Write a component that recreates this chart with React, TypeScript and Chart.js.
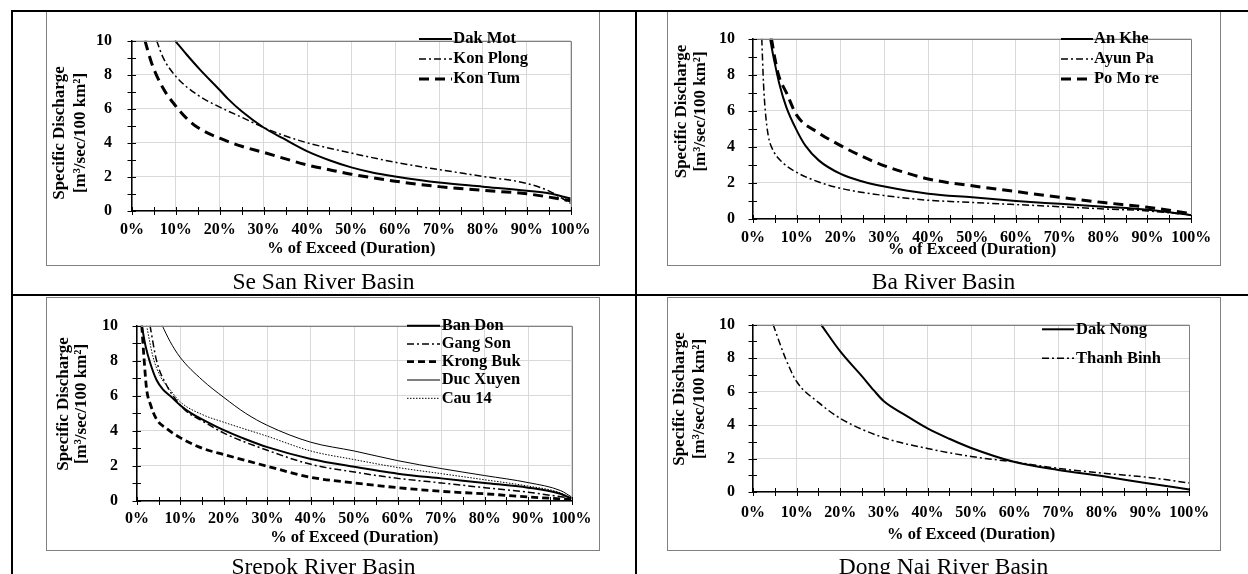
import React, { useEffect, useRef } from "react";
import { Chart, registerables } from "chart.js";

Chart.register(...registerables);

const FONT = "'Liberation Serif', 'Times New Roman', serif";

// ---------- axes / texts ----------
const xTickValues = [0, 10, 20, 30, 40, 50, 60, 70, 80, 90, 100];
const xTickLabels = ["0%", "10%", "20%", "30%", "40%", "50%", "60%", "70%", "80%", "90%", "100%"];
const yTickValues = [0, 2, 4, 6, 8, 10];
const yTickLabels = ["0", "2", "4", "6", "8", "10"];
const yAxisTitle = ["Specific Discharge", "[m³/sec/100 km²]"];
const xAxisTitle = "% of Exceed (Duration)";
const captions = ["Se San River Basin", "Ba River Basin", "Srepok River Basin", "Dong Nai River Basin"];

// ---------- Se San River Basin ----------
const dakMotX = [9.8, 12.4, 15.5, 20, 22, 25, 30, 34.4, 40, 45, 50, 55, 60, 70, 80, 90, 95, 100];
const dakMotY = [10, 9.2, 8.3, 7.1, 6.55, 5.85, 4.9, 4.27, 3.5, 2.98, 2.56, 2.25, 2.03, 1.67, 1.43, 1.19, 1.04, 0.73];
const konPlongX = [5.6, 7.1, 10, 15, 20, 25, 30, 35, 40, 50, 60, 70, 80, 90, 95, 100];
const konPlongY = [10, 9.0, 7.9, 6.8, 6.1, 5.5, 4.9, 4.4, 4.0, 3.4, 2.86, 2.43, 2.03, 1.62, 1.18, 0.45];
const konTumX = [2.95, 4.5, 7.1, 10, 12.4, 15, 20, 25, 30, 40, 45, 50, 60, 70, 80, 90, 100];
const konTumY = [10, 8.66, 7.2, 6.15, 5.45, 4.9, 4.27, 3.8, 3.44, 2.7, 2.42, 2.16, 1.75, 1.43, 1.21, 1.01, 0.6];

// ---------- Ba River Basin ----------
const anKheX = [3.9, 4.5, 5, 6, 7.6, 10, 12, 15, 20, 25, 30, 40, 50, 60, 70, 80, 90, 100];
const anKheY = [10, 9.2, 8.6, 7.5, 6.2, 4.9, 4.05, 3.25, 2.5, 2.08, 1.8, 1.4, 1.2, 1.0, 0.84, 0.68, 0.51, 0.21];
const ayunPaX = [2.0, 2.4, 2.8, 3.5, 4.6, 6.9, 10, 15, 20, 30, 40, 50, 60, 70, 80, 90, 100];
const ayunPaY = [10, 7.5, 6.0, 4.6, 3.8, 3.1, 2.58, 2.05, 1.7, 1.3, 1.04, 0.92, 0.8, 0.68, 0.56, 0.45, 0.22];
const poMoReX = [4.2, 5, 5.8, 7.7, 10, 15, 20, 25, 30, 35, 40, 45, 50, 60, 70, 80, 90, 100];
const poMoReY = [10, 8.9, 8.0, 6.96, 5.74, 4.77, 4.07, 3.46, 2.95, 2.55, 2.22, 2.0, 1.84, 1.52, 1.2, 0.91, 0.65, 0.3];

// ---------- Srepok River Basin ----------
const banDonX = [1.1, 2, 3, 4.5, 6, 7.6, 10, 12.5, 15, 20, 25, 30, 40, 50, 60, 70, 80, 90, 97, 100];
const banDonY = [10, 8.8, 7.9, 6.9, 6.35, 6.0, 5.45, 5.0, 4.66, 4.04, 3.52, 3.07, 2.4, 1.95, 1.56, 1.29, 1.03, 0.76, 0.44, 0.14];
const gangSonX = [3, 4.5, 6.8, 9.1, 11.4, 15, 20, 30, 40, 50, 60, 70, 80, 90, 100];
const gangSonY = [10, 8.0, 6.6, 5.73, 5.1, 4.57, 3.87, 2.89, 2.09, 1.65, 1.29, 1.03, 0.76, 0.5, 0.15];
const krongBukX = [1.1, 1.6, 2.2, 3.1, 4.5, 6.8, 10, 15, 20, 30, 40, 50, 60, 70, 80, 90, 100];
const krongBukY = [10, 8.2, 6.4, 5.5, 4.66, 4.13, 3.6, 3.01, 2.65, 1.98, 1.35, 1.03, 0.76, 0.55, 0.41, 0.23, 0.09];
const ducXuyenX = [5.8, 7.6, 9.9, 15, 20, 25, 30, 40, 50, 60, 70, 80, 90, 97.5, 100];
const ducXuyenY = [10, 9.1, 8.2, 6.9, 5.9, 5.0, 4.31, 3.35, 2.85, 2.3, 1.85, 1.45, 1.05, 0.59, 0.23];
const cau14X = [2.2, 3.7, 5.3, 7.6, 10, 15, 20, 30, 40, 50, 60, 70, 80, 90, 97, 100];
const cau14Y = [10, 8.2, 7.14, 6.35, 5.64, 4.93, 4.49, 3.69, 2.85, 2.36, 1.91, 1.56, 1.21, 0.85, 0.5, 0.15];

// ---------- Dong Nai River Basin ----------
const dakNongX = [15.6, 20, 25, 27.7, 30, 35, 40, 45, 50, 60, 70, 80, 90, 100];
const dakNongY = [10, 8.4, 6.91, 6.07, 5.42, 4.58, 3.8, 3.18, 2.63, 1.79, 1.32, 0.95, 0.54, 0.15];
const thanhBinhX = [4.6, 7.5, 10, 15, 20, 30, 40, 50, 60, 70, 80, 90, 100];
const thanhBinhY = [10, 7.95, 6.6, 5.35, 4.4, 3.24, 2.6, 2.12, 1.79, 1.41, 1.13, 0.89, 0.54];

// ---------- line styles ----------
type LineStyle = { width: number; dash: number[] };
const SOLID: LineStyle = { width: 2, dash: [] };
const THIN: LineStyle = { width: 1, dash: [] };
const DASH_DOT: LineStyle = { width: 1.5, dash: [7, 3, 2, 3] };
const LONG_DASH: LineStyle = { width: 3, dash: [10, 6] };
const SHORT_DASH: LineStyle = { width: 2.8, dash: [7, 4] };
const DOTTED: LineStyle = { width: 1, dash: [1.5, 1.5] };

type Series = { label: string; xs: number[]; ys: number[]; style: LineStyle };

type Geom = {
  boxX: number; boxY: number; boxW: number; boxH: number;
  plotL: number; plotT: number; plotR: number; plotB: number;
  yTickPad: number; xTickPad: number;
  yTitleX1: number; yTitleX2: number; yTitleY: number; xTitleY: number;
  legSampleX: number; legSampleW: number; legTextX: number; legRows: number[];
  capX: number; capBase: number;
};

type PanelCfg = { caption: string; series: Series[]; g: Geom };

const panels: PanelCfg[] = [
  {
    caption: captions[0],
    series: [
      { label: "Dak Mot", xs: dakMotX, ys: dakMotY, style: SOLID },
      { label: "Kon Plong", xs: konPlongX, ys: konPlongY, style: DASH_DOT },
      { label: "Kon Tum", xs: konTumX, ys: konTumY, style: LONG_DASH },
    ],
    g: {
      boxX: 46, boxY: 11, boxW: 554, boxH: 255,
      plotL: 132, plotT: 29, plotR: 572, plotB: 211,
      yTickPad: 20, xTickPad: 9.4,
      yTitleX1: 59.3, yTitleX2: 80.3, yTitleY: 133, xTitleY: 248.3,
      legSampleX: 419, legSampleW: 33, legTextX: 453.3, legRows: [39, 59, 79],
      capX: 323.5, capBase: 289.3,
    },
  },
  {
    caption: captions[1],
    series: [
      { label: "An Khe", xs: anKheX, ys: anKheY, style: SOLID },
      { label: "Ayun Pa", xs: ayunPaX, ys: ayunPaY, style: DASH_DOT },
      { label: "Po Mo re", xs: poMoReX, ys: poMoReY, style: LONG_DASH },
    ],
    g: {
      boxX: 667, boxY: 11, boxW: 554, boxH: 255,
      plotL: 753, plotT: 29, plotR: 1193, plotB: 219,
      yTickPad: 18, xTickPad: 9.7,
      yTitleX1: 681.7, yTitleX2: 700.7, yTitleY: 111.5, xTitleY: 249.5,
      legSampleX: 1061, legSampleW: 32, legTextX: 1094, legRows: [39, 59, 79],
      capX: 943.5, capBase: 289.3,
    },
  },
  {
    caption: captions[2],
    series: [
      { label: "Ban Don", xs: banDonX, ys: banDonY, style: SOLID },
      { label: "Gang Son", xs: gangSonX, ys: gangSonY, style: DASH_DOT },
      { label: "Krong Buk", xs: krongBukX, ys: krongBukY, style: SHORT_DASH },
      { label: "Duc Xuyen", xs: ducXuyenX, ys: ducXuyenY, style: THIN },
      { label: "Cau 14", xs: cau14X, ys: cau14Y, style: DOTTED },
    ],
    g: {
      boxX: 46, boxY: 297, boxW: 554, boxH: 254,
      plotL: 137, plotT: 313, plotR: 572, plotB: 501,
      yTickPad: 19, xTickPad: 8.4,
      yTitleX1: 63.3, yTitleX2: 81.7, yTitleY: 404, xTitleY: 537.5,
      legSampleX: 407, legSampleW: 33, legTextX: 441.7, legRows: [325.7, 344, 361.7, 380, 398.3],
      capX: 323.5, capBase: 574.3,
    },
  },
  {
    caption: captions[3],
    series: [
      { label: "Dak Nong", xs: dakNongX, ys: dakNongY, style: SOLID },
      { label: "Thanh Binh", xs: thanhBinhX, ys: thanhBinhY, style: DASH_DOT },
    ],
    g: {
      boxX: 667, boxY: 297, boxW: 554, boxH: 254,
      plotL: 753, plotT: 313, plotR: 1193, plotB: 492,
      yTickPad: 18, xTickPad: 11.7,
      yTitleX1: 680, yTitleX2: 700, yTitleY: 399, xTitleY: 535,
      legSampleX: 1042, legSampleW: 32, legTextX: 1076, legRows: [329.3, 358.3],
      capX: 943.5, capBase: 574.3,
    },
  },
];

function makeDecor(g: Geom, series: Series[]) {
  return {
    id: "decor",
    afterDraw(chart: any) {
      const ctx: CanvasRenderingContext2D = chart.ctx;
      const { left, right, top, bottom } = chart.chartArea;
      const xs = chart.scales.x;
      const ys = chart.scales.y;
      ctx.save();
      // plot frame (top + right)
      ctx.setLineDash([]);
      ctx.strokeStyle = "#7f7f7f";
      ctx.lineWidth = 1;
      ctx.beginPath();
      const ty = Math.round(top) + 0.5;
      const rx = Math.round(right) + 0.5;
      ctx.moveTo(left, ty);
      ctx.lineTo(rx, ty);
      ctx.moveTo(rx, ty);
      ctx.lineTo(rx, bottom);
      ctx.stroke();
      // tick crosses
      ctx.strokeStyle = "#000";
      ctx.lineWidth = 1;
      ctx.beginPath();
      for (let v = 0; v <= 100; v += 5) {
        const px = Math.round(xs.getPixelForValue(v)) + 0.5;
        ctx.moveTo(px, bottom - 4);
        ctx.lineTo(px, bottom + 4);
      }
      for (let v = 0; v <= 10; v += 1) {
        const py = Math.round(ys.getPixelForValue(v)) + 0.5;
        ctx.moveTo(left - 4.5, py);
        ctx.lineTo(left + 4, py);
      }
      ctx.stroke();
      // axis titles
      ctx.fillStyle = "#000";
      ctx.textAlign = "center";
      ctx.textBaseline = "middle";
      ctx.font = `bold 17px ${FONT}`;
      [g.yTitleX1, g.yTitleX2].forEach((x, i) => {
        ctx.save();
        ctx.translate(x - g.boxX, g.yTitleY - g.boxY);
        ctx.rotate(-Math.PI / 2);
        ctx.fillText(yAxisTitle[i], 0, 0);
        ctx.restore();
      });
      ctx.font = `bold 16.5px ${FONT}`;
      ctx.fillText(xAxisTitle, (left + right) / 2, g.xTitleY - g.boxY);
      // legend
      series.forEach((s, i) => {
        const y = g.legRows[i] - g.boxY;
        ctx.beginPath();
        ctx.setLineDash(s.style.dash);
        ctx.lineWidth = s.style.width;
        ctx.strokeStyle = "#000";
        ctx.lineCap = "butt";
        ctx.moveTo(g.legSampleX - g.boxX, y);
        ctx.lineTo(g.legSampleX - g.boxX + g.legSampleW, y);
        ctx.stroke();
        ctx.setLineDash([]);
        ctx.textAlign = "left";
        ctx.textBaseline = "middle";
        ctx.font = `bold 16.5px ${FONT}`;
        ctx.fillText(s.label, g.legTextX - g.boxX, y);
      });
      ctx.restore();
    },
  };
}

function Panel({ cfg }: { cfg: PanelCfg }) {
  const ref = useRef<HTMLCanvasElement>(null);
  const g = cfg.g;
  useEffect(() => {
    const canvas = ref.current;
    if (!canvas) return;
    const datasets = cfg.series.map((s) => ({
      label: s.label,
      data: s.xs.map((x, i) => ({ x, y: s.ys[i] })),
      borderColor: "#000",
      backgroundColor: "#000",
      borderWidth: s.style.width,
      borderDash: s.style.dash,
      borderCapStyle: "butt",
      borderJoinStyle: "round",
      pointRadius: 0,
      pointHoverRadius: 0,
      fill: false,
      cubicInterpolationMode: "monotone",
    }));
    const chart = new Chart(canvas, {
      type: "line",
      data: { datasets } as any,
      options: {
        animation: false,
        responsive: false,
        maintainAspectRatio: false,
        devicePixelRatio: 1,
        events: [],
        layout: {
          padding: { left: 0, top: g.plotT - g.boxY, right: g.boxX + g.boxW - g.plotR, bottom: 0 },
        },
        plugins: {
          legend: { display: false },
          tooltip: { enabled: false },
          title: { display: false },
        },
        scales: {
          x: {
            type: "linear",
            min: 0,
            max: 100,
            afterBuildTicks: (s: any) => {
              s.ticks = xTickValues.map((v) => ({ value: v }));
            },
            afterFit: (s: any) => {
              s.height = g.boxY + g.boxH - g.plotB;
            },
            grid: { color: "#d9d9d9", lineWidth: 1, drawTicks: false },
            border: { display: true, color: "#000", width: 1.5 },
            ticks: {
              padding: g.xTickPad,
              color: "#000",
              maxRotation: 0,
              autoSkip: false,
              font: { family: FONT, size: 16, weight: "bold" },
              callback: (v: any) => {
                const i = xTickValues.indexOf(Number(v));
                return i >= 0 ? xTickLabels[i] : "";
              },
            },
          },
          y: {
            type: "linear",
            min: 0,
            max: 10,
            afterBuildTicks: (s: any) => {
              s.ticks = yTickValues.map((v) => ({ value: v }));
            },
            afterFit: (s: any) => {
              s.width = g.plotL - g.boxX;
            },
            grid: { color: "#d9d9d9", lineWidth: 1, drawTicks: false },
            border: { display: true, color: "#000", width: 1.5 },
            ticks: {
              padding: g.yTickPad,
              color: "#000",
              autoSkip: false,
              font: { family: FONT, size: 16, weight: "bold" },
              callback: (v: any) => {
                const i = yTickValues.indexOf(Number(v));
                return i >= 0 ? yTickLabels[i] : "";
              },
            },
          },
        },
      } as any,
      plugins: [makeDecor(g, cfg.series) as any],
    });
    return () => chart.destroy();
  }, []);

  return (
    <>
      <canvas
        ref={ref}
        width={g.boxW}
        height={g.boxH}
        style={{ position: "absolute", left: g.boxX, top: g.boxY, width: g.boxW, height: g.boxH }}
      />
      <div
        style={{
          position: "absolute",
          left: g.boxX,
          top: g.boxY,
          width: g.boxW,
          height: g.boxH,
          boxSizing: "border-box",
          border: "1px solid #808080",
          pointerEvents: "none",
        }}
      />
      <div
        style={{
          position: "absolute",
          left: g.capX - 250,
          width: 500,
          top: g.capBase - 19.94,
          fontFamily: FONT,
          fontSize: "23.5px",
          lineHeight: "24px",
          textAlign: "center",
          color: "#000",
          whiteSpace: "nowrap",
        }}
      >
        {cfg.caption}
      </div>
    </>
  );
}

export default function App() {
  const line = (l: number, t: number, w: number, h: number) => (
    <div style={{ position: "absolute", left: l, top: t, width: w, height: h, background: "#000" }} />
  );
  return (
    <div
      style={{
        position: "absolute",
        left: 0,
        top: 0,
        width: 1248,
        height: 574,
        overflow: "hidden",
        background: "#fff",
      }}
    >
      {panels.map((p, i) => (
        <Panel key={i} cfg={p} />
      ))}
      {line(11, 10, 1237, 2)}
      {line(11, 10, 2, 564)}
      {line(634.5, 10, 2, 564)}
      {line(11, 294, 1237, 2)}
    </div>
  );
}
